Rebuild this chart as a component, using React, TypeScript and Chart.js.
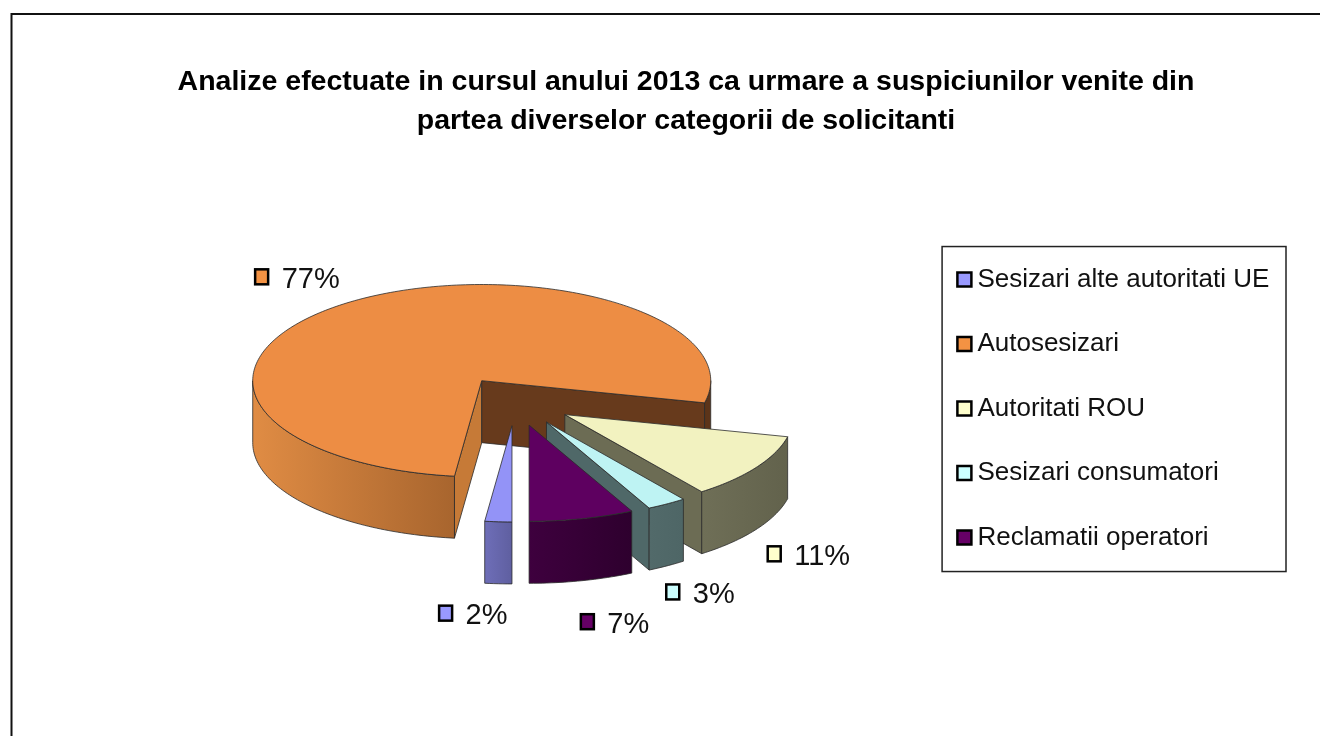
import React, { useEffect, useRef } from "react";
import { Chart, registerables } from "chart.js";

Chart.register(...registerables);

const FONT = "'Liberation Sans', Arial, sans-serif";

const titleLines = [
  "Analize efectuate in cursul anului 2013 ca urmare a suspiciunilor venite din",
  "partea diverselor categorii de solicitanti",
];
const categories = [
  "Sesizari alte autoritati UE",
  "Autosesizari",
  "Autoritati ROU",
  "Sesizari consumatori",
  "Reclamatii operatori",
];
const shares = [1.9, 76.8, 11.1, 2.8, 7.4];
const topColors = ["#9393f7", "#ed8d44", "#f2f2c0", "#bef3f3", "#5e0060"];
const legendColors = ["#9999ff", "#f39243", "#ffffcc", "#ccffff", "#660066"];
// outer wall gradient, left to right, and the colour of the wall's right-hand part
const wallFrom = ["#6e6eb8", "#e08c44", "#6f6f57", "#526a6a", "#3e003e"];
const wallTo = ["#5f5fa0", "#a8652e", "#62624c", "#4e6666", "#2e002e"];
const wallFar = ["#5f5fa0", "#5c3419", "#62624c", "#4e6666", "#2e002e"];
// flat radial walls: the one on the slice's opening edge and the one on its closing edge
const sideOpen = ["#6666b0", "#c67a37", "#6c6c54", "#4f6868", "#3e003e"];
const sideClose = ["#6666b0", "#673a1c", "#6c6c54", "#4f6868", "#3e003e"];

const PIE = { cx: 515.5, cy: 401, radius: 229, tilt: 0.42, depth: 62, explode: 59 };
// data label square, relative to the rim point at the middle of its slice
const labelShift = [
  [-52.7, 91.4],
  [-89, -25],
  [18, 86.4],
  [6, 88],
  [5.5, 103],
];

const LINE = "#2b2b2b";

const project = (chart: any, x: number, y: number): [number, number] => {
  const a = chart.chartArea;
  return [
    PIE.cx + x - (a.left + a.right) / 2,
    PIE.cy + (y - (a.top + a.bottom) / 2) * PIE.tilt,
  ];
};

const rim = (chart: any, el: any, ang: number, down = 0): [number, number] => {
  const [x, y] = project(
    chart,
    el.x + PIE.radius * Math.cos(ang),
    el.y + PIE.radius * Math.sin(ang)
  );
  return [x, y + down];
};

// parts of the arc [a, b] on the front half of the ellipse
const frontParts = (a: number, b: number): [number, number][] => {
  const out: [number, number][] = [];
  for (let k = -2; k <= 2; k++) {
    const lo = Math.max(a, k * 2 * Math.PI);
    const hi = Math.min(b, k * 2 * Math.PI + Math.PI);
    if (hi > lo) out.push([lo, hi]);
  }
  return out;
};

const wallPath = (ctx: any, chart: any, el: any, a: number, b: number) => {
  ctx.beginPath();
  const steps = Math.max(2, Math.ceil((b - a) / 0.02));
  for (let i = 0; i <= steps; i++) {
    const [x, y] = rim(chart, el, a + ((b - a) * i) / steps);
    if (i === 0) ctx.moveTo(x, y);
    else ctx.lineTo(x, y);
  }
  for (let i = steps; i >= 0; i--) {
    const [x, y] = rim(chart, el, a + ((b - a) * i) / steps, PIE.depth);
    ctx.lineTo(x, y);
  }
  ctx.closePath();
};

const sideWall = (ctx: any, chart: any, el: any, ang: number, fill: string) => {
  const [ax, ay] = project(chart, el.x, el.y);
  const [rx, ry] = rim(chart, el, ang);
  ctx.beginPath();
  ctx.moveTo(ax, ay);
  ctx.lineTo(rx, ry);
  ctx.lineTo(rx, ry + PIE.depth);
  ctx.lineTo(ax, ay + PIE.depth);
  ctx.closePath();
  ctx.fillStyle = fill;
  ctx.fill();
  ctx.strokeStyle = LINE;
  ctx.lineWidth = 0.8;
  ctx.stroke();
};

const pie3d = {
  id: "pie3d",
  afterDatasetsUpdate(chart: any) {
    chart.getDatasetMeta(0).data.forEach((el: any) => {
      const mid = (el.startAngle + el.endAngle) / 2;
      el.x += PIE.explode * Math.cos(mid);
      el.y += PIE.explode * Math.sin(mid);
    });
  },
  beforeDatasetsDraw(chart: any) {
    const ctx = chart.ctx;
    const arcs = chart.getDatasetMeta(0).data as any[];
    const order = arcs.map((_, i) => i).sort((p, q) => arcs[p].y - arcs[q].y);
    ctx.save();
    order.forEach((i) => {
      const el = arcs[i];
      if (Math.cos(el.startAngle) < 0) sideWall(ctx, chart, el, el.startAngle, sideOpen[i]);
      if (Math.cos(el.endAngle) > 0.02) sideWall(ctx, chart, el, el.endAngle, sideClose[i]);
      frontParts(el.startAngle, el.endAngle).forEach(([a, b]) => {
        const [x0] = rim(chart, el, b);
        const [x1] = rim(chart, el, a);
        const farPart = Math.cos((a + b) / 2) > 0 && i === 1;
        const g = ctx.createLinearGradient(x0, 0, x1, 0);
        g.addColorStop(0, farPart ? wallFar[i] : wallFrom[i]);
        g.addColorStop(1, farPart ? wallFar[i] : wallTo[i]);
        wallPath(ctx, chart, el, a, b);
        ctx.fillStyle = g;
        ctx.fill();
        ctx.strokeStyle = LINE;
        ctx.lineWidth = 0.8;
        ctx.stroke();
      });
    });
    ctx.restore();
  },
  beforeDatasetDraw(chart: any) {
    const ctx = chart.ctx;
    const a = chart.chartArea;
    ctx.save();
    ctx.translate(PIE.cx, PIE.cy);
    ctx.scale(1, PIE.tilt);
    ctx.translate(-(a.left + a.right) / 2, -(a.top + a.bottom) / 2);
  },
  afterDatasetDraw(chart: any) {
    chart.ctx.restore();
  },
  afterDatasetsDraw(chart: any) {
    const ctx = chart.ctx;
    const arcs = chart.getDatasetMeta(0).data as any[];
    ctx.save();
    // outline of the top faces
    arcs.forEach((el) => {
      const [ax, ay] = project(chart, el.x, el.y);
      ctx.beginPath();
      ctx.moveTo(ax, ay);
      const steps = Math.max(2, Math.ceil((el.endAngle - el.startAngle) / 0.02));
      for (let s = 0; s <= steps; s++) {
        const [x, y] = rim(chart, el, el.startAngle + ((el.endAngle - el.startAngle) * s) / steps);
        ctx.lineTo(x, y);
      }
      ctx.closePath();
      ctx.strokeStyle = LINE;
      ctx.lineWidth = 0.8;
      ctx.stroke();
    });
    // data labels
    ctx.font = `29px ${FONT}`;
    ctx.textAlign = "left";
    ctx.textBaseline = "middle";
    arcs.forEach((el, i) => {
      const [mx, my] = rim(chart, el, (el.startAngle + el.endAngle) / 2);
      const sx = mx + labelShift[i][0];
      const sy = my + labelShift[i][1];
      ctx.fillStyle = legendColors[i];
      ctx.fillRect(sx - 6.5, sy - 7.5, 13, 15);
      ctx.strokeStyle = "#000";
      ctx.lineWidth = 2.5;
      ctx.strokeRect(sx - 6.5, sy - 7.5, 13, 15);
      ctx.fillStyle = "#111";
      ctx.fillText(`${Math.round(shares[i])}%`, sx + 20, sy + 3);
    });
    // legend frame
    const boxes = chart.legend.legendHitBoxes as any[];
    const left = boxes[0].left - 22.3;
    const right = Math.max(...boxes.map((b) => b.left + b.width)) + 16.7;
    const top = boxes[0].top - 20;
    const last = boxes[boxes.length - 1];
    const bottom = last.top + last.height + 21;
    ctx.strokeStyle = "#222";
    ctx.lineWidth = 1.5;
    ctx.strokeRect(left, top, right - left, bottom - top);
    // page frame: only top and left edges show
    ctx.strokeStyle = "#111";
    ctx.lineWidth = 2;
    ctx.beginPath();
    ctx.moveTo(11.5, chart.height);
    ctx.lineTo(11.5, 14);
    ctx.lineTo(chart.width, 14);
    ctx.stroke();
    ctx.restore();
  },
};

export default function App() {
  const ref = useRef<HTMLCanvasElement>(null);
  useEffect(() => {
    document.body.style.margin = "0";
    document.body.style.background = "#fff";
    const chart = new Chart(ref.current as HTMLCanvasElement, {
      type: "pie",
      data: {
        labels: categories,
        datasets: [
          {
            data: shares,
            backgroundColor: topColors,
            borderWidth: 0,
            clip: false,
          } as any,
        ],
      },
      options: {
        responsive: false,
        animation: false,
        rotation: 180,
        radius: PIE.radius,
        layout: { padding: { left: 92.7, right: 40.7, top: 0, bottom: 80 } },
        plugins: {
          tooltip: { enabled: false },
          title: {
            display: true,
            text: titleLines,
            color: "#000",
            font: { family: FONT, size: 28.5, weight: "bold", lineHeight: 1.37 },
            padding: { top: 63, bottom: 20 },
          },
          legend: {
            position: "right",
            fullSize: false,
            labels: {
              usePointStyle: true,
              pointStyle: "rect",
              boxWidth: 0.01,
              boxHeight: 14,
              padding: 38.5,
              color: "#111",
              font: { family: FONT, size: 26 },
              generateLabels(c: any) {
                const base = (Chart as any).overrides.doughnut.plugins.legend.labels.generateLabels(c);
                return base.map((item: any, i: number) => ({
                  ...item,
                  fillStyle: legendColors[i],
                  strokeStyle: "#000",
                  lineWidth: 2.5,
                  pointStyle: "rect",
                }));
              },
            },
          },
        },
      } as any,
      plugins: [pie3d],
    });
    return () => chart.destroy();
  }, []);
  return (
    <div style={{ width: 1320, height: 736 }}>
      <canvas ref={ref} width={1320} height={736} style={{ display: "block" }} />
    </div>
  );
}
